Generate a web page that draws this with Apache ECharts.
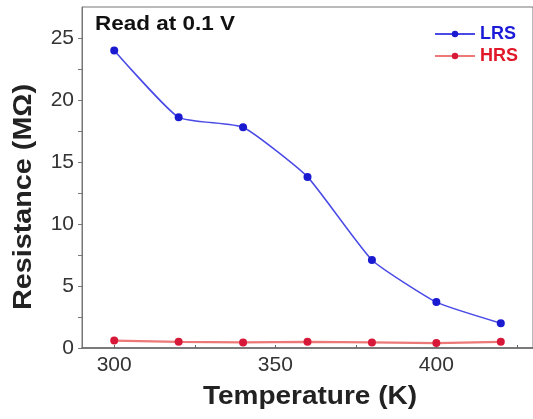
<!DOCTYPE html>
<html><head><meta charset="utf-8">
<script src="https://cdn.jsdelivr.net/npm/echarts@6/dist/echarts.min.js"></script>
<style>html,body{margin:0;padding:0;background:#fff}#c{width:533px;height:419px}</style>
</head><body><div id="c"></div>
<script>
var temperatures = [300, 320, 340, 360, 380, 400, 420];
var lrs = [24.0, 18.6, 17.8, 13.8, 7.1, 3.7, 2.0];
var hrs = [0.6, 0.5, 0.45, 0.5, 0.45, 0.4, 0.5];
var xTickLabels = [300, 350, 400];
var xMinorTicks = [300, 325, 350, 375, 400, 425];
var yTickLabels = [0, 5, 10, 15, 20, 25];

var chart = echarts.init(document.getElementById('c'));
var font = 'Liberation Sans, Arial, sans-serif';
function pairs(v){ return temperatures.map(function(t,i){ return [t, v[i]]; }); }
chart.setOption({
  animation: false,
  backgroundColor: '#fff',
  grid: {left: 82, top: 7, right: -1, bottom: 71, show: true, borderColor: '#777', borderWidth: 1},
  xAxis: {
    type: 'value', min: 290, max: 430,
    axisLine: {show: true, onZero: false, lineStyle: {color: '#666', width: 1.5}},
    axisTick: {show: true, length: 3, inside: true, customValues: xMinorTicks, lineStyle: {color: '#666'}},
    splitLine: {show: false},
    axisLabel: {fontFamily: font, fontSize: 21, color: '#333', margin: 7, customValues: xTickLabels}
  },
  yAxis: {
    type: 'value', min: 0, max: 27.5, interval: 2.5,
    axisLine: {show: true, lineStyle: {color: '#777', width: 1}},
    axisTick: {show: true, length: 4, lineStyle: {color: '#777'}},
    splitLine: {show: false},
    axisLabel: {fontFamily: font, fontSize: 21, color: '#333', margin: 8, showMaxLabel: false,
      formatter: function(v){ return yTickLabels.indexOf(v) >= 0 ? String(v) : ''; }}
  },
  legend: {
    right: 10, top: 20, orient: 'vertical', itemGap: 4, itemWidth: 40, itemHeight: 8,
    textStyle: {fontFamily: font, fontSize: 18, fontWeight: 'bold'},
    data: [
      {name: 'LRS', textStyle: {color: '#1a1ad8'}},
      {name: 'HRS', textStyle: {color: '#e01828'}}
    ]
  },
  graphic: [
    {type: 'text', x: 95, y: 24.5, scaleX: 1.07, style: {text: 'Read at 0.1 V', fontFamily: font, fontSize: 21, fontWeight: 'bold', fill: '#111', verticalAlign: 'middle'}},
    {type: 'text', x: 24, y: 197, rotation: Math.PI/2, scaleX: 1.15, style: {text: 'Resistance (MΩ)', fontFamily: font, fontSize: 25, fontWeight: 'bold', fill: '#222', align: 'center', verticalAlign: 'middle'}},
    {type: 'text', x: 310, y: 397, scaleX: 1.12, style: {text: 'Temperature (K)', fontFamily: font, fontSize: 25, fontWeight: 'bold', fill: '#222', align: 'center', verticalAlign: 'middle'}}
  ],
  series: [
    {name: 'LRS', type: 'line', data: pairs(lrs), smooth: 0.15, symbol: 'circle', symbolSize: 8,
      lineStyle: {color: '#4a4ae6', width: 1.5}, itemStyle: {color: '#1a1ad0'}},
    {name: 'HRS', type: 'line', data: pairs(hrs), symbol: 'circle', symbolSize: 8,
      lineStyle: {color: '#ec7878', width: 2.2}, itemStyle: {color: '#d81838'}}
  ]
});
</script></body></html>
